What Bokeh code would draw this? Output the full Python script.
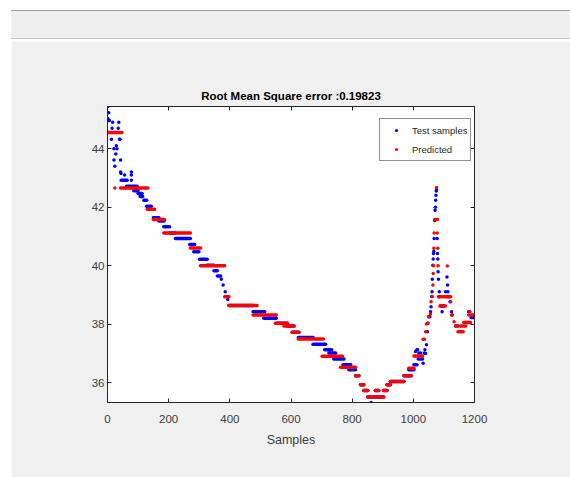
import numpy as np
from bokeh.plotting import figure
from bokeh.models import (Range1d, FixedTicker, LinearAxis, Legend, LegendItem,
                          Div, ColumnDataSource)
from bokeh.layouts import column
from bokeh.embed import file_html
from bokeh.resources import INLINE

# ---------------- data ----------------
TITLE = "Root Mean Square error :0.19823"
X_LABEL = "Samples"
X_TICKS = [0, 200, 400, 600, 800, 1000, 1200]
Y_TICKS = [36, 38, 40, 42, 44]
X_MIN, X_MAX = 0, 1200
Y_MIN, Y_MAX = 35.33, 45.44

# Test samples: flat runs (start sample, end sample, value)
blue_seg_start = [45, 62, 86, 100, 107, 119, 128, 150, 168, 184, 203, 222, 269, 282,
                  301, 326, 348, 359, 397, 476, 511, 552, 588, 604, 624, 672, 710,
                  724, 740, 770, 789, 811, 827, 838, 851, 876, 882, 903, 914, 925,
                  969, 985, 1002, 1016, 1094, 1189]
blue_seg_end = [64, 97, 100, 113, 115, 128, 143, 168, 185, 203, 222, 271, 285, 299,
                326, 348, 359, 370, 476, 514, 552, 588, 610, 626, 672, 713, 733,
                746, 773, 795, 811, 822, 838, 851, 876, 887, 903, 914, 925, 969,
                993, 1002, 1012, 1030, 1102, 1198]
blue_seg_value = [42.92, 42.72, 42.56, 42.47, 42.37, 42.24, 42.03, 41.64, 41.53, 41.33,
                  41.12, 40.93, 40.73, 40.48, 40.22, 40.02, 39.83, 39.65, 38.64, 38.43,
                  38.21, 38.04, 37.94, 37.73, 37.55, 37.32, 37.13, 37.02, 36.82, 36.62,
                  36.45, 36.24, 35.94, 35.74, 35.52, 35.74, 35.52, 35.74, 35.94, 36.05,
                  36.24, 36.45, 36.62, 36.82, 38.63, 38.23]
# Test samples: isolated points
blue_pt_x = [1, 4, 2, 4, 6, 17, 37, 15, 35, 13, 39, 41, 21, 31, 29, 27, 21, 43, 24,
             43, 44, 56, 78, 78, 78, 372, 378, 385, 393, 862,
             1007, 1012, 1014, 1018, 1024, 1032, 1036, 1038, 1040,
             1043, 1046, 1048, 1050, 1054, 1056, 1058, 1060, 1061, 1062, 1064, 1065,
             1066, 1067, 1068, 1070, 1071, 1072, 1073, 1074, 1075, 1076, 1078, 1079,
             1080, 1081, 1082, 1085, 1090, 1094, 1105, 1110, 1112, 1113, 1115, 1120,
             1125, 1127, 1138, 1146, 1181]
blue_pt_y = [45.44, 45.23, 45.02, 44.96, 44.96, 44.90, 44.90, 44.70, 44.70, 44.32,
             44.32, 44.32, 44.00, 44.00, 44.10, 43.82, 43.61, 43.61, 43.40, 43.20,
             43.15, 43.10, 43.20, 43.10, 42.92, 39.54, 39.34, 39.11, 38.85, 35.33,
             37.07, 37.13, 37.13, 37.02, 37.02, 36.67, 37.02, 37.13, 37.00,
             37.30, 37.75, 38.04, 38.26, 38.26, 38.43, 38.60, 38.95, 39.11, 39.54,
             40.02, 40.23, 40.42, 40.50, 40.93, 41.55, 41.90, 42.00, 42.24, 42.41,
             42.55, 42.60, 40.93, 40.42, 40.23, 39.80, 39.54, 39.11, 38.63, 38.43,
             39.11, 39.62, 39.34, 39.11, 38.94, 38.77, 38.43, 38.32, 37.94, 37.94,
             38.43]

# Predicted: flat runs
red_seg_start = [1, 43, 130, 150, 184, 271, 304, 383, 397, 476, 549, 577, 604, 624,
                 702, 762, 811, 827, 838, 851, 876, 882, 903, 914, 925, 969, 985,
                 1002, 1083, 1087, 1100, 1138, 1146, 1154, 1165, 1189]
red_seg_end = [47, 132, 154, 186, 271, 304, 383, 397, 489, 552, 588, 610, 626, 706,
               768, 811, 822, 838, 851, 876, 887, 903, 914, 925, 969, 993, 1002,
               1030, 1094, 1105, 1122, 1146, 1163, 1171, 1187, 1198]
red_seg_value = [44.55, 42.66, 41.93, 41.58, 41.12, 40.61, 40.00, 38.94, 38.64, 38.32,
                 38.04, 37.94, 37.73, 37.50, 36.91, 36.53, 36.24, 35.94, 35.74, 35.52,
                 35.74, 35.52, 35.74, 35.94, 36.05, 36.24, 36.50, 36.92, 38.94, 38.63,
                 38.94, 37.94, 37.75, 37.94, 38.06, 38.32]
# Predicted: isolated points
red_pt_x = [24, 1032, 1036, 1040, 1043, 1047, 1050, 1056, 1058, 1062, 1064, 1065,
            1066, 1067, 1068, 1070, 1072, 1074, 1076, 1078, 1079, 1080, 1081, 1083,
            1111, 1122, 1125, 1127, 1133, 1181, 1185]
red_pt_y = [42.66, 37.49, 37.49, 37.75, 38.01, 38.04, 38.26, 38.35, 38.77, 38.95,
            39.34, 39.74, 40.00, 40.60, 41.12, 41.58, 41.58, 41.58, 42.67, 41.12,
            41.58, 40.60, 40.00, 38.94, 39.99, 38.77, 38.32, 38.32, 38.09, 38.32,
            38.43]

# ---------------- style ----------------
FONT = "Liberation Sans"
BLUE = "#0000ff"
RED = "#ff0000"
AX = "#262626"
TXT = "#404040"
BG = "#f0f0f0"

p = figure(width=559, height=436, output_backend="svg", toolbar_location=None,
           x_range=Range1d(X_MIN, X_MAX), y_range=Range1d(Y_MIN, Y_MAX),
           min_border_left=96, min_border_right=96, min_border_top=65,
           min_border_bottom=75, x_axis_label=X_LABEL, title=TITLE)
p.margin = (0, 0, 0, 11)
p.background_fill_color = "white"
p.border_fill_color = BG
p.outline_line_color = AX
p.outline_line_width = 1
p.xgrid.visible = False
p.ygrid.visible = False

p.title.align = "center"
p.title.text_font = FONT
p.title.text_font_size = "11.5px"
p.title.text_font_style = "bold"
p.title.text_color = "#000000"
p.title.standoff = 9

for ax in (p.xaxis[0], p.yaxis[0]):
    ax.axis_line_color = AX
    ax.major_tick_line_color = AX
    ax.major_tick_in = 4
    ax.major_tick_out = 0
    ax.minor_tick_line_color = None
    ax.major_label_text_font = FONT
    ax.major_label_text_font_size = "11.5px"
    ax.major_label_text_color = TXT
p.xaxis[0].ticker = FixedTicker(ticks=X_TICKS)
p.yaxis[0].ticker = FixedTicker(ticks=Y_TICKS)
p.xaxis[0].major_label_standoff = 12
p.yaxis[0].major_label_standoff = 3
p.xaxis[0].axis_label_text_font = FONT
p.xaxis[0].axis_label_text_font_size = "12.5px"
p.xaxis[0].axis_label_text_font_style = "normal"
p.xaxis[0].axis_label_text_color = TXT
p.xaxis[0].axis_label_standoff = 7

top = LinearAxis(ticker=FixedTicker(ticks=X_TICKS),
                 major_label_overrides={t: "" for t in X_TICKS})
right = LinearAxis(ticker=FixedTicker(ticks=Y_TICKS),
                   major_label_overrides={t: "" for t in Y_TICKS})
for ax in (top, right):
    ax.axis_line_color = AX
    ax.major_tick_line_color = AX
    ax.major_tick_in = 4
    ax.major_tick_out = 0
    ax.minor_tick_line_color = None
    ax.major_label_standoff = 0
p.add_layout(top, "above")
p.add_layout(right, "right")

# Test samples (drawn first)
bseg = ColumnDataSource(dict(x0=blue_seg_start, x1=blue_seg_end, y=blue_seg_value))
p.segment(x0="x0", x1="x1", y0="y", y1="y", source=bseg, line_color=BLUE,
          line_width=3.5, line_cap="round")
bpts = p.scatter(blue_pt_x, blue_pt_y, marker="circle", size=3.5,
                 fill_color=BLUE, line_color=None)

# Predicted (on top)
rseg = ColumnDataSource(dict(x0=red_seg_start, x1=red_seg_end, y=red_seg_value))
p.segment(x0="x0", x1="x1", y0="y", y1="y", source=rseg, line_color=RED,
          line_width=3.5, line_cap="round")
rpts = p.scatter(red_pt_x, red_pt_y, marker="circle", size=3.5,
                 fill_color=RED, line_color=None)

legend = Legend(items=[LegendItem(label="Test samples", renderers=[bpts]),
                       LegendItem(label="Predicted", renderers=[rpts])],
                location=(272, 241))
legend.label_text_font = FONT
legend.label_text_font_size = "9.5px"
legend.label_text_color = AX
legend.glyph_width = 26
legend.glyph_height = 8
legend.label_height = 16
legend.label_standoff = 3
legend.padding = 3
legend.spacing = 3
legend.margin = 0
legend.border_line_color = AX
legend.border_line_width = 1
legend.background_fill_color = "white"
legend.background_fill_alpha = 1
p.add_layout(legend, "center")

band = Div(text='<div style="width:559px;height:29px;background:#efefef;'
                'border-top:1px solid #a0a0a0;border-bottom:1px solid #c4c4c4;"></div>',
           width=559, height=31)
band.margin = (10, 0, 0, 11)

layout = column(band, p, spacing=0)
layout.margin = 0

open("out.html", "w").write(file_html(layout, INLINE))
